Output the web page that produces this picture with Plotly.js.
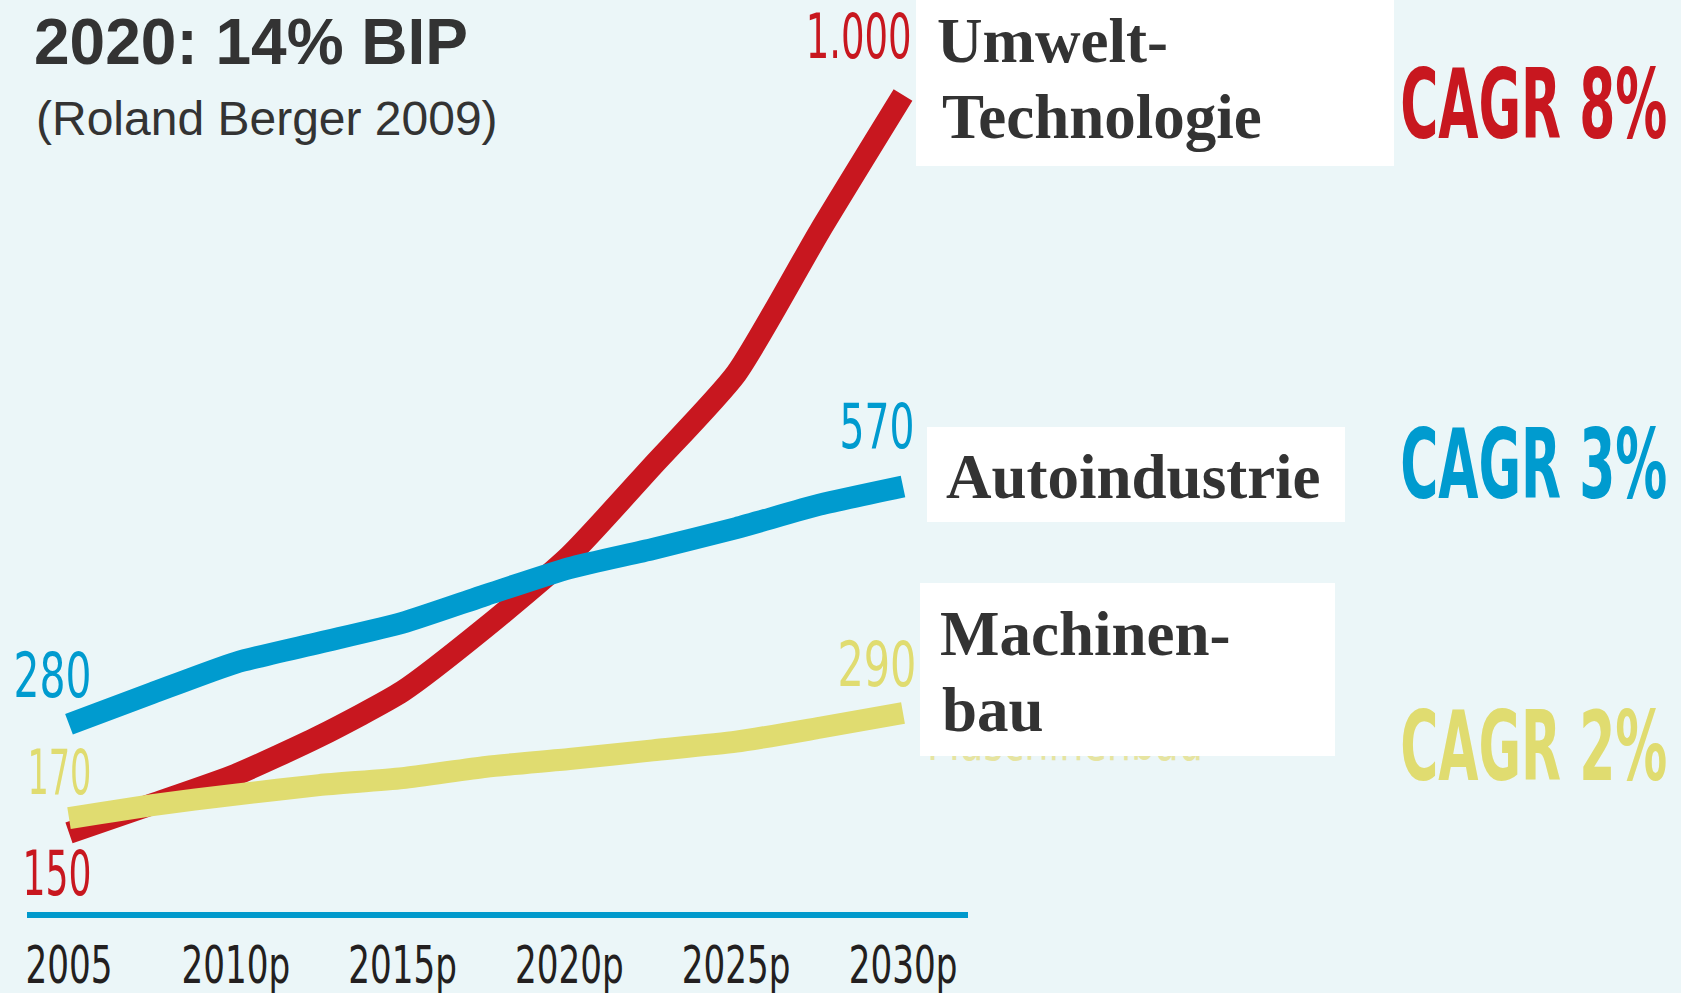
<!DOCTYPE html>
<html>
<head>
<meta charset="utf-8">
<script src="https://cdn.plot.ly/plotly-3.0.1.min.js"></script>
<style>
  html, body { margin: 0; padding: 0; background: #EBF6F8; }
  #chart { width: 1681px; height: 993px; }
</style>
</head>
<body>
<div id="chart"></div>
<script>
// ---------- data ----------
const years = [2005, 2007.5, 2010, 2012.5, 2015, 2017.5, 2020, 2022.5, 2025, 2027.5, 2030];
const tickYears = [2005, 2010, 2015, 2020, 2025, 2030];
const tickLabels = ['2005', '2010p', '2015p', '2020p', '2025p', '2030p'];

const umweltTechnologie = [150, 183, 217, 261, 313, 387, 469, 573, 679, 843, 1000];
const autoindustrie     = [275, 311, 346, 369, 392, 424, 455, 477, 501, 528, 549];
const maschinenbau      = [167, 182, 194, 205, 213, 226, 235, 245, 255, 271, 288];

const seriesNames  = ['Umwelt-Technologie', 'Autoindustrie', 'Machinen-bau'];
const startLabels  = ['150', '280', '170'];
const endLabels    = ['1.000', '570', '290'];
const cagrLabels   = ['CAGR 8%', 'CAGR 3%', 'CAGR 2%'];
const titleText    = '2020: 14% BIP';
const subtitleText = '(Roland Berger 2009)';
const hiddenLabel  = 'Maschinenbau';

// ---------- styling ----------
const RED = '#C8171F', BLUE = '#009BCF', YELLOW = '#E0DC70';
const BG = '#EBF6F8', DARK = '#333333';
const NARROW = '"Liberation Sans Narrow", "Arial Narrow", "DejaVu Sans Condensed", "Liberation Sans", sans-serif';
const SANS = '"Liberation Sans", Arial, sans-serif';
const SERIF = '"Liberation Serif", "Times New Roman", serif';

const W = 1681, H = 993;
const L = 27, R = 968, T = 0, B = 915;          // plot area in pixels
const px = x => (x - L) / (R - L);
const py = y => (B - y) / (B - T);

const annotations = [];
const squeeze = [];   // {index, width, anchor}

function addText(text, x, y, xanchor, font, target) {
  annotations.push({
    xref: 'paper', yref: 'paper', x: px(x), y: py(y),
    xanchor: xanchor, yanchor: 'middle', text: text, showarrow: false,
    borderpad: 0, font: font
  });
  if (target) squeeze.push({ index: annotations.length - 1, width: target, anchor: xanchor });
}
function addBox(x, y, w, h) {
  annotations.push({
    xref: 'paper', yref: 'paper', x: px(x), y: py(y),
    xanchor: 'left', yanchor: 'top', text: '&nbsp;', showarrow: false,
    width: w, height: h, bgcolor: '#FFFFFF', borderpad: 0, borderwidth: 0,
    font: { size: 10, color: '#FFFFFF' }
  });
}

// subtitle
addText(subtitleText, 35, 118.5, 'left', { family: SANS, size: 48, color: DARK });

// start values
const colors = [RED, BLUE, YELLOW];
const startPos = [[92, 873.5, 69], [92, 675.5, 78], [92, 772.5, 64]];
startLabels.forEach((t, i) => addText(t, startPos[i][0], startPos[i][1], 'right',
  { family: NARROW, size: 62, color: colors[i] }, startPos[i][2]));

// end values
const endPos = [[913, 36.5, 106], [915, 426.5, 75], [917, 664.5, 79]];
endLabels.forEach((t, i) => addText(t, endPos[i][0], endPos[i][1], 'right',
  { family: NARROW, size: 62, color: colors[i] }, endPos[i][2]));

// CAGR
const cagrPos = [[1668, 104.7], [1668, 464.7], [1668, 746.7]];
cagrLabels.forEach((t, i) => addText(t, cagrPos[i][0], cagrPos[i][1], 'right',
  { family: NARROW, size: 96, color: colors[i], weight: 'bold' }, 267));

// original yellow series label, mostly hidden behind the white box
addText(hiddenLabel, 926, 741, 'left', { family: NARROW, size: 54, color: '#E6E4A0' }, 276);

// white boxes
addBox(916, 0, 478, 166);
addBox(927, 427, 418, 95);
addBox(920, 583, 415, 173);

// series names (serif, bold)
const serifFont = { family: SERIF, size: 63, color: DARK, weight: 'bold' };
addText('Umwelt-', 936, 40.7, 'left', serifFont);
addText('Technologie', 941, 116.7, 'left', serifFont);
addText('Autoindustrie', 945, 476.7, 'left', serifFont);
addText('Machinen-', 939, 633.7, 'left', serifFont);
addText('bau', 941, 710.4, 'left', serifFont);

// ---------- traces ----------
const series = [umweltTechnologie, autoindustrie, maschinenbau];
const data = series.map((vals, i) => ({
  type: 'scatter', mode: 'lines', name: seriesNames[i],
  x: years, y: vals,
  line: { color: colors[i], width: 22, shape: 'spline', smoothing: 0.6 },
  hoverinfo: 'skip'
}));

const layout = {
  width: W, height: H,
  paper_bgcolor: BG, plot_bgcolor: BG,
  margin: { l: L, r: W - R, t: T, b: H - B, pad: 0 },
  showlegend: false,
  title: {
    text: titleText,
    font: { family: SANS, size: 64, color: DARK, weight: 'bold' },
    xref: 'container', yref: 'container',
    x: 34 / W, xanchor: 'left',
    y: 1 - 41.6 / H, yanchor: 'middle'
  },
  xaxis: {
    range: [2003.741, 2031.948],
    tickvals: tickYears, ticktext: tickLabels,
    ticks: '', showgrid: false, zeroline: false, showline: false,
    tickfont: { family: NARROW, size: 52, color: '#231F20' },
    ticklabelstandoff: 15, fixedrange: true
  },
  yaxis: {
    range: [(963 - 915) / 0.868, 963 / 0.868],
    showgrid: false, zeroline: false, showline: false,
    showticklabels: false, ticks: '', fixedrange: true
  },
  shapes: [{
    type: 'line', xref: 'paper', yref: 'paper', x0: 0, x1: 1, y0: 0, y1: 0,
    line: { color: '#0099CC', width: 6 }, layer: 'above'
  }],
  annotations: annotations
};

function squeezeText(el, target, anchor) {
  const bb = el.getBBox();
  if (!bb.width) return;
  const s = Math.min(1.2, target / bb.width);
  const ax = anchor === 'left' ? bb.x : anchor === 'right' ? bb.x + bb.width : bb.x + bb.width / 2;
  const prev = el.getAttribute('transform') || '';
  el.setAttribute('transform', (prev + ' translate(' + ax + ',0) scale(' + s + ',1) translate(' + (-ax) + ',0)').trim());
}

const gd = document.getElementById('chart');
Plotly.newPlot(gd, data, layout, { staticPlot: true, displayModeBar: false, responsive: false })
  .then(() => {
    squeeze.forEach(sq => {
      const el = gd.querySelector('.annotation[data-index="' + sq.index + '"] text.annotation-text');
      if (el) squeezeText(el, sq.width, sq.anchor);
    });
    const ticks = Array.from(gd.querySelectorAll('.xtick text'));
    if (ticks.length) {
      const first = ticks[0].getBBox().width;
      const s = first ? 87 / first : 1;
      ticks.forEach(el => squeezeText(el, el.getBBox().width * s, 'middle'));
    }
  });
</script>
</body>
</html>
